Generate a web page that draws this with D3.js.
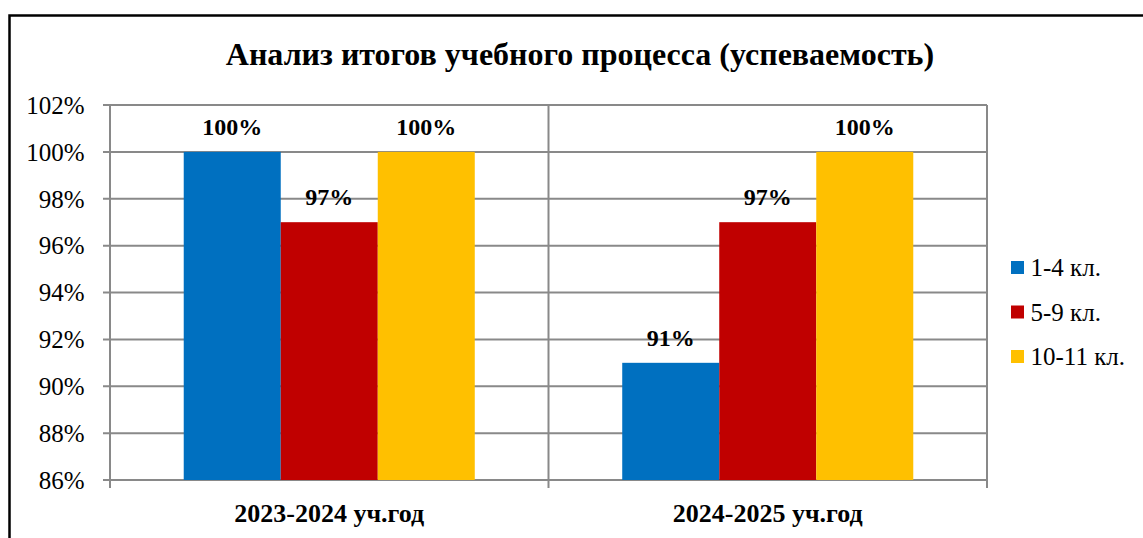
<!DOCTYPE html>
<html><head><meta charset="utf-8">
<script src="https://cdn.jsdelivr.net/npm/d3@7"></script>
<style>body{margin:0;background:#fff}svg{display:block}</style>
</head><body>
<script>
const title = "Анализ итогов учебного процесса (успеваемость)";
const categories = ["2023-2024 уч.год", "2024-2025 уч.год"];
const seriesNames = ["1-4 кл.", "5-9 кл.", "10-11 кл."];
const seriesColors = ["#0070C0", "#C00000", "#FFC000"];
const s1 = [100, 91];
const s2 = [97, 97];
const s3 = [100, 100];
const yTicks = [86, 88, 90, 92, 94, 96, 98, 100, 102];

const W = 1143, H = 538;
const FONT = '"Liberation Serif", "Times New Roman", serif';
const svg = d3.select("body").append("svg").attr("width", W).attr("height", H);

svg.append("path").attr("d", `M9.5,${H} L9.5,15.5 L${W},15.5`).attr("fill","none").attr("stroke","#000").attr("stroke-width",2.5);

const m = {l:110, r:987, t:105, b:480};
const x0 = d3.scaleBand().domain(categories).range([m.l, m.r]).paddingInner(0).paddingOuter(0);
const x1 = d3.scaleBand().domain(seriesNames).range([0, x0.bandwidth()]).paddingInner(0).paddingOuter(0.76);
const y = d3.scaleLinear().domain([86, 102]).range([m.b, m.t]);

const grid = "#898989";
svg.append("g").selectAll("line").data(yTicks).join("line")
  .attr("x1", m.l - 7).attr("x2", m.r).attr("y1", d=>y(d)).attr("y2", d=>y(d))
  .attr("stroke", grid).attr("stroke-width", 2);
const seps = [m.l, x0(categories[1]), m.r];
svg.append("g").selectAll("line").data(seps).join("line")
  .attr("x1", d=>d).attr("x2", d=>d).attr("y1", m.t).attr("y2", m.b + 8)
  .attr("stroke", grid).attr("stroke-width", 2);

svg.append("g").selectAll("text").data(yTicks).join("text")
  .attr("x", 84.5).attr("y", d=>y(d)).attr("dy","0.35em").attr("text-anchor","end")
  .style("font-family", FONT).attr("font-size", 25).attr("fill","#000")
  .text(d=>d+"%");

const series = [s1, s2, s3];
const rows = [];
series.forEach((vals, si) => vals.forEach((v, ci) => rows.push({si, ci, v})));

svg.append("g").selectAll("rect").data(rows).join("rect")
  .attr("x", d=>x0(categories[d.ci]) + x1(seriesNames[d.si]))
  .attr("width", x1.bandwidth())
  .attr("y", d=>y(d.v)).attr("height", d=>y(86)-y(d.v))
  .attr("fill", d=>seriesColors[d.si]);

svg.append("g").selectAll("text").data(rows).join("text")
  .attr("x", d=>x0(categories[d.ci]) + x1(seriesNames[d.si]) + x1.bandwidth()/2)
  .attr("y", d=>y(d.v) - 17)
  .attr("text-anchor","middle").style("font-family", FONT).attr("font-weight","bold")
  .attr("font-size", 24).attr("fill","#000")
  .text(d=>d.v+"%");

svg.append("g").selectAll("text").data(categories).join("text")
  .attr("x", d=>x0(d) + x0.bandwidth()/2).attr("y", 522)
  .attr("text-anchor","middle").style("font-family", FONT).attr("font-weight","bold")
  .attr("font-size", 26).attr("fill","#000").text(d=>d);

svg.append("text").attr("x", 580).attr("y", 65).attr("text-anchor","middle")
  .style("font-family", FONT).attr("font-weight","bold").attr("font-size", 32).attr("fill","#000")
  .text(title);

const lg = svg.append("g").selectAll("g").data(seriesNames).join("g")
  .attr("transform", (d,i)=>`translate(1011,${267.5 + i*44.5})`);
lg.append("rect").attr("x",0).attr("y",-6.5).attr("width",13).attr("height",13).attr("fill",(d,i)=>seriesColors[i]);
lg.append("text").attr("x",19.5).attr("y",0).attr("dy","0.35em")
  .style("font-family", FONT).attr("font-size", 25).attr("fill","#000").text(d=>d);
</script>
</body></html>
